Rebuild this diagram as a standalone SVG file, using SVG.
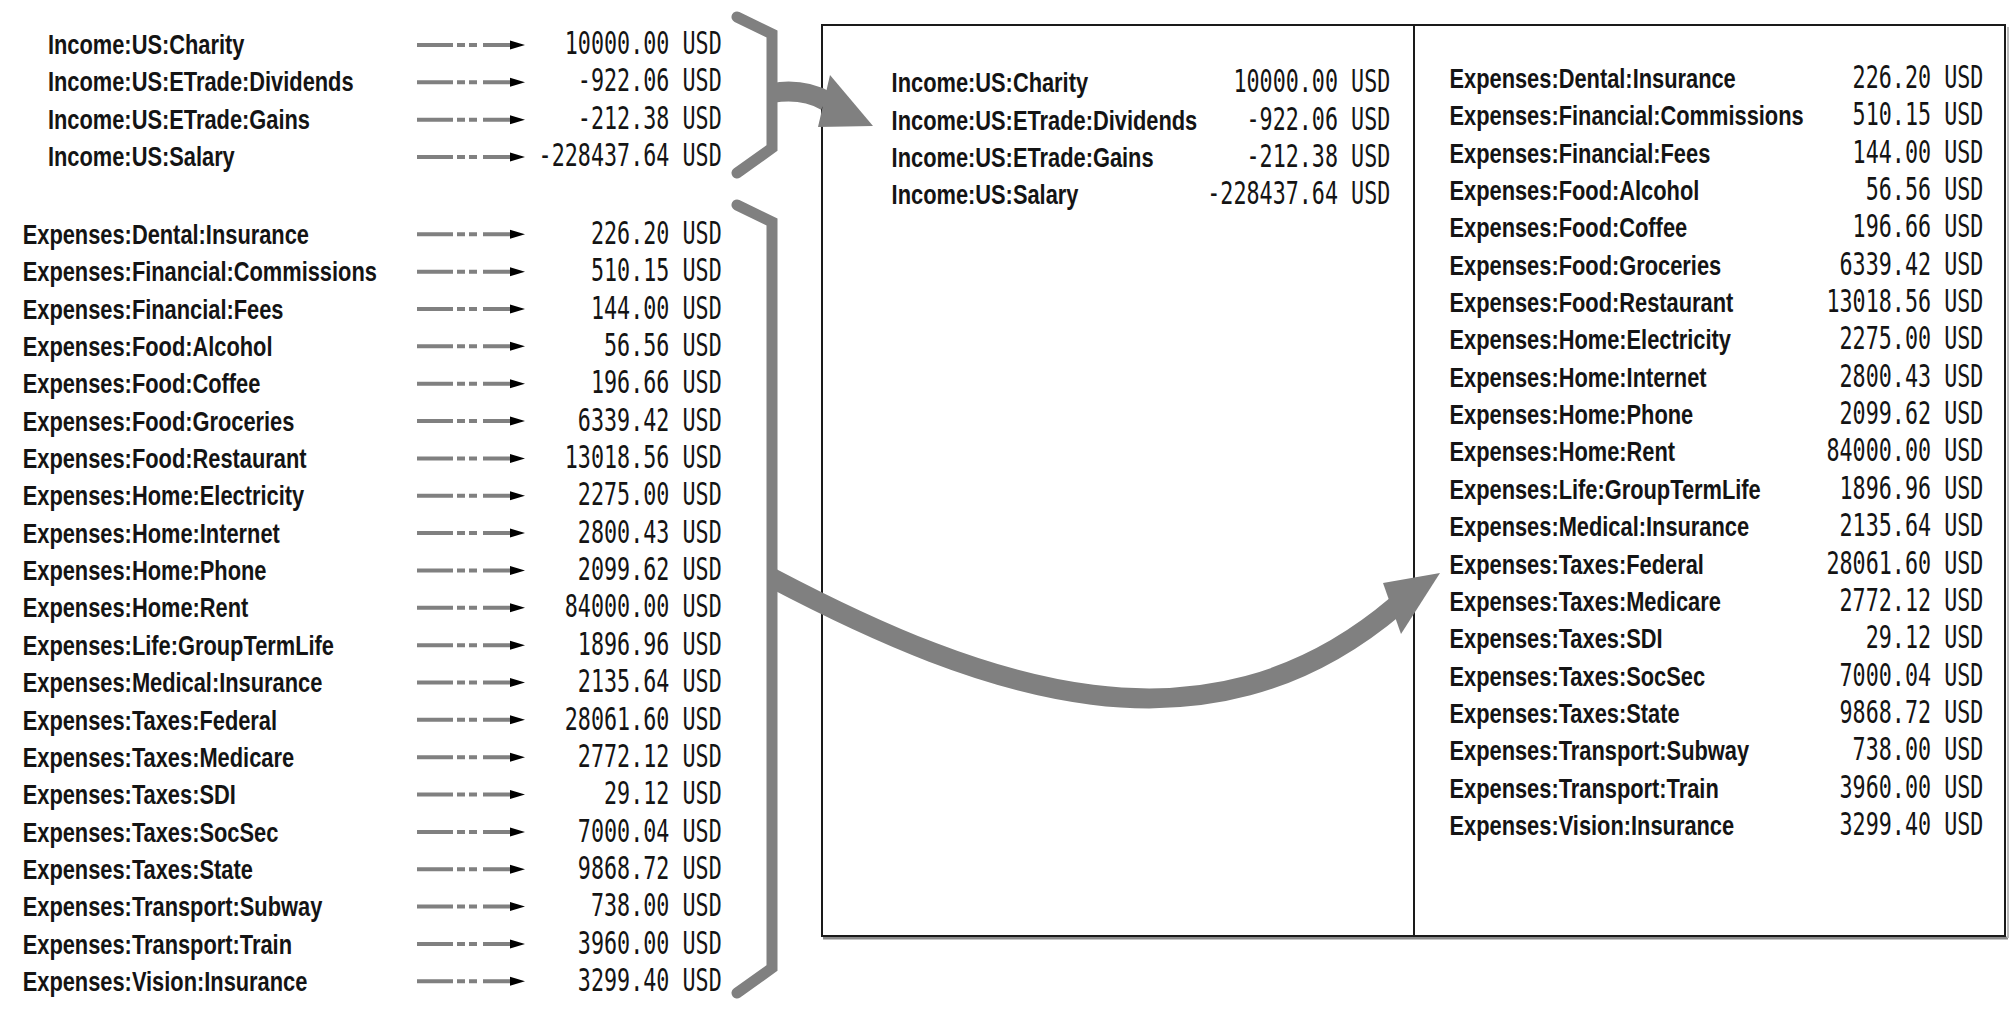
<svg xmlns="http://www.w3.org/2000/svg" width="2016" height="1032" viewBox="0 0 2016 1032">
<defs>
<style>
.lbl{font-family:"Liberation Sans",Arial,sans-serif;font-weight:bold;font-size:28px;fill:#141414}
.num{font-family:"DejaVu Sans Mono","Liberation Mono",monospace;font-size:31.5px;fill:#141414;text-anchor:end}
.dash{fill:none;stroke:#808080;stroke-width:4;stroke-dasharray:36 4 8 4 8 6 200 0}
.brk{fill:none;stroke:#808080;stroke-width:11;stroke-linecap:round;stroke-linejoin:miter}
.shaft{fill:none;stroke:#808080;stroke-width:20}
.head{fill:#808080}
.box{fill:#fff;stroke:#1a1a1a;stroke-width:2}
</style>
<marker id="ah" markerUnits="userSpaceOnUse" markerWidth="16" markerHeight="10" viewBox="0 -5 16 10" refX="0" refY="0" orient="auto">
<path d="M0,-4.5 L15,0 L0,4.5 z" fill="#000"/>
</marker>
</defs>
<rect width="2016" height="1032" fill="#fff"/>

<g id="summary-box">
<line x1="823" y1="938" x2="2008" y2="938" stroke="#8a8a8a" stroke-width="3"/>
<line x1="2008" y1="27" x2="2008" y2="938" stroke="#bbbbbb" stroke-width="2"/>
<rect class="box" x="822" y="25" width="592" height="911"/>
<rect class="box" x="1414" y="25" width="591" height="911"/>
</g>

<g id="connectors">
<path class="dash" d="M417 45 H510" marker-end="url(#ah)"/>
<path class="dash" d="M417 82.3 H510" marker-end="url(#ah)"/>
<path class="dash" d="M417 119.7 H510" marker-end="url(#ah)"/>
<path class="dash" d="M417 157 H510" marker-end="url(#ah)"/>
<path class="dash" d="M417 234.3 H510" marker-end="url(#ah)"/>
<path class="dash" d="M417 271.65 H510" marker-end="url(#ah)"/>
<path class="dash" d="M417 309 H510" marker-end="url(#ah)"/>
<path class="dash" d="M417 346.35 H510" marker-end="url(#ah)"/>
<path class="dash" d="M417 383.7 H510" marker-end="url(#ah)"/>
<path class="dash" d="M417 421.05 H510" marker-end="url(#ah)"/>
<path class="dash" d="M417 458.4 H510" marker-end="url(#ah)"/>
<path class="dash" d="M417 495.75 H510" marker-end="url(#ah)"/>
<path class="dash" d="M417 533.1 H510" marker-end="url(#ah)"/>
<path class="dash" d="M417 570.45 H510" marker-end="url(#ah)"/>
<path class="dash" d="M417 607.8 H510" marker-end="url(#ah)"/>
<path class="dash" d="M417 645.15 H510" marker-end="url(#ah)"/>
<path class="dash" d="M417 682.5 H510" marker-end="url(#ah)"/>
<path class="dash" d="M417 719.85 H510" marker-end="url(#ah)"/>
<path class="dash" d="M417 757.2 H510" marker-end="url(#ah)"/>
<path class="dash" d="M417 794.55 H510" marker-end="url(#ah)"/>
<path class="dash" d="M417 831.9 H510" marker-end="url(#ah)"/>
<path class="dash" d="M417 869.25 H510" marker-end="url(#ah)"/>
<path class="dash" d="M417 906.6 H510" marker-end="url(#ah)"/>
<path class="dash" d="M417 943.95 H510" marker-end="url(#ah)"/>
<path class="dash" d="M417 981.3 H510" marker-end="url(#ah)"/>
<path class="brk" d="M737 17 L772 34 V148 L737 173"/>
<path class="brk" d="M737 205 L772 222 V968 L737 993"/>
<path class="shaft" d="M772 93 Q803 88 826 101"/>
<polygon class="head" points="830,75 873,126 818,127"/>
<path class="shaft" d="M772 578 C985 690 1205 768 1396 606"/>
<polygon class="head" points="1383,583 1440,573 1401,634"/>
</g>

<g id="income-list">
<g transform="scale(0.78,1)">
<text class="lbl" x="61.5" y="54">Income:US:Charity</text>
<text class="lbl" x="61.5" y="91.3">Income:US:ETrade:Dividends</text>
<text class="lbl" x="61.5" y="128.7">Income:US:ETrade:Gains</text>
<text class="lbl" x="61.5" y="166">Income:US:Salary</text>
</g>
<g transform="scale(0.69,1)">
<text class="num" x="1046" y="54">10000.00 USD</text>
<text class="num" x="1046" y="91.3">-922.06 USD</text>
<text class="num" x="1046" y="128.7">-212.38 USD</text>
<text class="num" x="1046" y="166">-228437.64 USD</text>
</g>
</g>

<g id="expenses-list">
<g transform="scale(0.78,1)">
<text class="lbl" x="29.1" y="244">Expenses:Dental:Insurance</text>
<text class="lbl" x="29.1" y="281.35">Expenses:Financial:Commissions</text>
<text class="lbl" x="29.1" y="318.7">Expenses:Financial:Fees</text>
<text class="lbl" x="29.1" y="356.05">Expenses:Food:Alcohol</text>
<text class="lbl" x="29.1" y="393.4">Expenses:Food:Coffee</text>
<text class="lbl" x="29.1" y="430.75">Expenses:Food:Groceries</text>
<text class="lbl" x="29.1" y="468.1">Expenses:Food:Restaurant</text>
<text class="lbl" x="29.1" y="505.45">Expenses:Home:Electricity</text>
<text class="lbl" x="29.1" y="542.8">Expenses:Home:Internet</text>
<text class="lbl" x="29.1" y="580.15">Expenses:Home:Phone</text>
<text class="lbl" x="29.1" y="617.5">Expenses:Home:Rent</text>
<text class="lbl" x="29.1" y="654.85">Expenses:Life:GroupTermLife</text>
<text class="lbl" x="29.1" y="692.2">Expenses:Medical:Insurance</text>
<text class="lbl" x="29.1" y="729.55">Expenses:Taxes:Federal</text>
<text class="lbl" x="29.1" y="766.9">Expenses:Taxes:Medicare</text>
<text class="lbl" x="29.1" y="804.25">Expenses:Taxes:SDI</text>
<text class="lbl" x="29.1" y="841.6">Expenses:Taxes:SocSec</text>
<text class="lbl" x="29.1" y="878.95">Expenses:Taxes:State</text>
<text class="lbl" x="29.1" y="916.3">Expenses:Transport:Subway</text>
<text class="lbl" x="29.1" y="953.65">Expenses:Transport:Train</text>
<text class="lbl" x="29.1" y="991">Expenses:Vision:Insurance</text>
</g>
<g transform="scale(0.69,1)">
<text class="num" x="1046" y="244">226.20 USD</text>
<text class="num" x="1046" y="281.35">510.15 USD</text>
<text class="num" x="1046" y="318.7">144.00 USD</text>
<text class="num" x="1046" y="356.05">56.56 USD</text>
<text class="num" x="1046" y="393.4">196.66 USD</text>
<text class="num" x="1046" y="430.75">6339.42 USD</text>
<text class="num" x="1046" y="468.1">13018.56 USD</text>
<text class="num" x="1046" y="505.45">2275.00 USD</text>
<text class="num" x="1046" y="542.8">2800.43 USD</text>
<text class="num" x="1046" y="580.15">2099.62 USD</text>
<text class="num" x="1046" y="617.5">84000.00 USD</text>
<text class="num" x="1046" y="654.85">1896.96 USD</text>
<text class="num" x="1046" y="692.2">2135.64 USD</text>
<text class="num" x="1046" y="729.55">28061.60 USD</text>
<text class="num" x="1046" y="766.9">2772.12 USD</text>
<text class="num" x="1046" y="804.25">29.12 USD</text>
<text class="num" x="1046" y="841.6">7000.04 USD</text>
<text class="num" x="1046" y="878.95">9868.72 USD</text>
<text class="num" x="1046" y="916.3">738.00 USD</text>
<text class="num" x="1046" y="953.65">3960.00 USD</text>
<text class="num" x="1046" y="991">3299.40 USD</text>
</g>
</g>

<g id="box-income">
<g transform="scale(0.78,1)">
<text class="lbl" x="1143.1" y="92.5">Income:US:Charity</text>
<text class="lbl" x="1143.1" y="129.8">Income:US:ETrade:Dividends</text>
<text class="lbl" x="1143.1" y="167.2">Income:US:ETrade:Gains</text>
<text class="lbl" x="1143.1" y="204.5">Income:US:Salary</text>
</g>
<g transform="scale(0.69,1)">
<text class="num" x="2015" y="92.5">10000.00 USD</text>
<text class="num" x="2015" y="129.8">-922.06 USD</text>
<text class="num" x="2015" y="167.2">-212.38 USD</text>
<text class="num" x="2015" y="204.5">-228437.64 USD</text>
</g>
</g>

<g id="box-expenses">
<g transform="scale(0.78,1)">
<text class="lbl" x="1858.3" y="88">Expenses:Dental:Insurance</text>
<text class="lbl" x="1858.3" y="125.35">Expenses:Financial:Commissions</text>
<text class="lbl" x="1858.3" y="162.7">Expenses:Financial:Fees</text>
<text class="lbl" x="1858.3" y="200.05">Expenses:Food:Alcohol</text>
<text class="lbl" x="1858.3" y="237.4">Expenses:Food:Coffee</text>
<text class="lbl" x="1858.3" y="274.75">Expenses:Food:Groceries</text>
<text class="lbl" x="1858.3" y="312.1">Expenses:Food:Restaurant</text>
<text class="lbl" x="1858.3" y="349.45">Expenses:Home:Electricity</text>
<text class="lbl" x="1858.3" y="386.8">Expenses:Home:Internet</text>
<text class="lbl" x="1858.3" y="424.15">Expenses:Home:Phone</text>
<text class="lbl" x="1858.3" y="461.5">Expenses:Home:Rent</text>
<text class="lbl" x="1858.3" y="498.85">Expenses:Life:GroupTermLife</text>
<text class="lbl" x="1858.3" y="536.2">Expenses:Medical:Insurance</text>
<text class="lbl" x="1858.3" y="573.55">Expenses:Taxes:Federal</text>
<text class="lbl" x="1858.3" y="610.9">Expenses:Taxes:Medicare</text>
<text class="lbl" x="1858.3" y="648.25">Expenses:Taxes:SDI</text>
<text class="lbl" x="1858.3" y="685.6">Expenses:Taxes:SocSec</text>
<text class="lbl" x="1858.3" y="722.95">Expenses:Taxes:State</text>
<text class="lbl" x="1858.3" y="760.3">Expenses:Transport:Subway</text>
<text class="lbl" x="1858.3" y="797.65">Expenses:Transport:Train</text>
<text class="lbl" x="1858.3" y="835">Expenses:Vision:Insurance</text>
</g>
<g transform="scale(0.69,1)">
<text class="num" x="2874.5" y="88">226.20 USD</text>
<text class="num" x="2874.5" y="125.35">510.15 USD</text>
<text class="num" x="2874.5" y="162.7">144.00 USD</text>
<text class="num" x="2874.5" y="200.05">56.56 USD</text>
<text class="num" x="2874.5" y="237.4">196.66 USD</text>
<text class="num" x="2874.5" y="274.75">6339.42 USD</text>
<text class="num" x="2874.5" y="312.1">13018.56 USD</text>
<text class="num" x="2874.5" y="349.45">2275.00 USD</text>
<text class="num" x="2874.5" y="386.8">2800.43 USD</text>
<text class="num" x="2874.5" y="424.15">2099.62 USD</text>
<text class="num" x="2874.5" y="461.5">84000.00 USD</text>
<text class="num" x="2874.5" y="498.85">1896.96 USD</text>
<text class="num" x="2874.5" y="536.2">2135.64 USD</text>
<text class="num" x="2874.5" y="573.55">28061.60 USD</text>
<text class="num" x="2874.5" y="610.9">2772.12 USD</text>
<text class="num" x="2874.5" y="648.25">29.12 USD</text>
<text class="num" x="2874.5" y="685.6">7000.04 USD</text>
<text class="num" x="2874.5" y="722.95">9868.72 USD</text>
<text class="num" x="2874.5" y="760.3">738.00 USD</text>
<text class="num" x="2874.5" y="797.65">3960.00 USD</text>
<text class="num" x="2874.5" y="835">3299.40 USD</text>
</g>
</g>
</svg>
